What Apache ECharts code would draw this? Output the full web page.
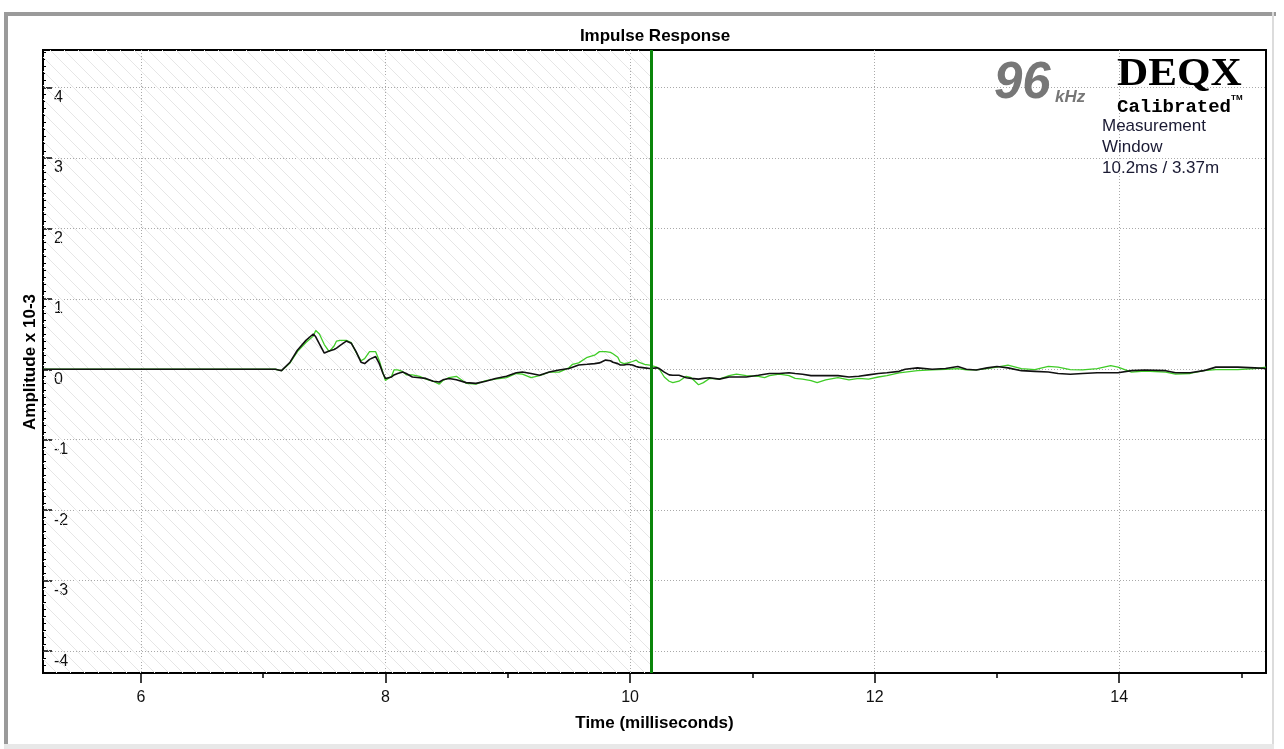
<!DOCTYPE html>
<html>
<head>
<meta charset="utf-8">
<script src="https://cdn.jsdelivr.net/npm/echarts@6/dist/echarts.min.js"></script>
<style>
  html, body { margin: 0; padding: 0; background: #ffffff; }
  #chart { width: 1284px; height: 749px; }
</style>
</head>
<body>
<div id="chart"></div>
<script>
// ---------- data ----------
const TIME_MS = [5.2, 7.10, 7.15, 7.22, 7.28, 7.35, 7.41, 7.43, 7.46, 7.50, 7.54, 7.58, 7.60, 7.63, 7.68, 7.72, 7.76, 7.80, 7.83, 7.87,
  7.92, 7.95, 7.98, 8.00, 8.05, 8.07, 8.10, 8.14, 8.17, 8.22, 8.28, 8.33, 8.39, 8.44, 8.47, 8.52, 8.58, 8.66, 8.74, 8.82,
  8.90, 8.99, 9.07, 9.12, 9.19, 9.26, 9.34, 9.42, 9.50, 9.53, 9.58, 9.65, 9.71, 9.75, 9.80, 9.84, 9.86, 9.90, 9.92, 9.95,
  9.98, 10.02, 10.05, 10.07, 10.12, 10.16, 10.22, 10.24, 10.28, 10.32, 10.35, 10.40, 10.46, 10.50, 10.56, 10.60, 10.65, 10.73, 10.81, 10.87,
  10.95, 11.05, 11.10, 11.14, 11.22, 11.30, 11.35, 11.41, 11.48, 11.53, 11.60, 11.70, 11.79, 11.87, 11.95, 12.03, 12.10, 12.20, 12.25, 12.35,
  12.47, 12.58, 12.68, 12.75, 12.83, 12.92, 13.00, 13.09, 13.20, 13.31, 13.42, 13.50, 13.60, 13.70, 13.82, 13.93, 13.99, 14.10, 14.21, 14.38,
  14.46, 14.58, 14.69, 14.79, 14.97, 15.11, 15.2];

const BLACK_AMP = [0, 0, -0.02, 0.10, 0.27, 0.41, 0.50, 0.46, 0.36, 0.23, 0.26, 0.28, 0.30, 0.34, 0.40, 0.37, 0.25, 0.10, 0.08, 0.14,
  0.18, 0.08, -0.06, -0.13, -0.11, -0.08, -0.06, -0.04, -0.06, -0.11, -0.12, -0.13, -0.17, -0.18, -0.15, -0.13, -0.15, -0.19, -0.20, -0.17,
  -0.13, -0.10, -0.05, -0.04, -0.06, -0.085, -0.04, -0.01, 0.01, 0.03, 0.06, 0.07, 0.08, 0.09, 0.13, 0.12, 0.10, 0.08, 0.06, 0.06,
  0.07, 0.06, 0.04, 0.03, 0.02, 0.01, 0.02, 0.01, -0.04, -0.08, -0.085, -0.085, -0.12, -0.13, -0.14, -0.13, -0.12, -0.14, -0.11, -0.11,
  -0.11, -0.085, -0.07, -0.06, -0.06, -0.05, -0.06, -0.07, -0.09, -0.09, -0.09, -0.09, -0.11, -0.10, -0.08, -0.06, -0.05, -0.03, 0.0, 0.02,
  0.0, 0.01, 0.04, 0.0, -0.01, 0.02, 0.04, 0.02, -0.02, -0.03, -0.04, -0.06, -0.07, -0.06, -0.05, -0.05, -0.05, -0.02, -0.01, -0.02,
  -0.05, -0.05, -0.02, 0.03, 0.03, 0.02, 0.01];

const GREEN_AMP = [0, 0, -0.02, 0.09, 0.25, 0.38, 0.47, 0.55, 0.50, 0.35, 0.25, 0.33, 0.40, 0.41, 0.41, 0.38, 0.24, 0.12, 0.15, 0.25,
  0.25, 0.12, -0.05, -0.16, -0.10, -0.01, -0.01, -0.03, -0.08, -0.08, -0.10, -0.14, -0.17, -0.21, -0.16, -0.12, -0.10, -0.20, -0.21, -0.16,
  -0.14, -0.12, -0.06, -0.07, -0.12, -0.09, -0.04, -0.04, 0.02, 0.07, 0.09, 0.17, 0.20, 0.25, 0.25, 0.24, 0.22, 0.17, 0.10, 0.08,
  0.09, 0.11, 0.13, 0.10, 0.07, 0.06, 0.03, 0.0, -0.11, -0.17, -0.19, -0.17, -0.10, -0.12, -0.22, -0.19, -0.13, -0.14, -0.09, -0.07,
  -0.09, -0.10, -0.12, -0.09, -0.07, -0.09, -0.13, -0.14, -0.16, -0.19, -0.15, -0.12, -0.15, -0.13, -0.14, -0.11, -0.09, -0.05, -0.04, -0.02,
  -0.01, 0.0, 0.01, -0.01, -0.01, 0.01, 0.03, 0.06, 0.01, -0.005, 0.04, 0.03, -0.005, -0.01, 0.01, 0.05, 0.03, -0.04, -0.025, -0.04,
  -0.07, -0.06, -0.02, -0.005, -0.005, 0.01, 0.03];

const X_RANGE = [5.2, 15.2];
const Y_RANGE = [-4.31, 4.53];
const X_LABEL_TICKS = [6, 8, 10, 12, 14];
const X_MINOR_TICKS = [7, 9, 11, 13, 15];
const Y_LABEL_TICKS = [-4, -3, -2, -1, 0, 1, 2, 3, 4];
const WINDOW_END_MS = 10.17;

const TITLE = 'Impulse Response';
const X_NAME = 'Time (milliseconds)';
const Y_NAME = 'Amplitude x 10-3';
const WINDOW_TEXT = ['Measurement', 'Window', '10.2ms / 3.37m'];

// ---------- helpers ----------
const Y_MINOR_TICKS = [];
for (let i = -43; i <= 45; i++) { if (i % 10 !== 0) Y_MINOR_TICKS.push(i / 10); }

const FONT = "'Liberation Sans', Arial, Helvetica, sans-serif";
const greenData = TIME_MS.map((t, i) => [t, GREEN_AMP[i]]);
const blackData = TIME_MS.map((t, i) => [t, BLACK_AMP[i]]);

// hatch pattern
const HS = 14;
const pc = document.createElement('canvas');
pc.width = HS; pc.height = HS;
const pctx = pc.getContext('2d');
pctx.strokeStyle = '#e6e6e6';
pctx.lineWidth = 1;
[-HS, 0, HS].forEach(k => { pctx.beginPath(); pctx.moveTo(k, 0); pctx.lineTo(k + HS, HS); pctx.stroke(); });

const chart = echarts.init(document.getElementById('chart'), null, { renderer: 'canvas' });

const gridDash = { color: '#a9a9a9', width: 1, type: [1, 2] };

chart.setOption({
  animation: false,
  backgroundColor: '#ffffff',
  grid: { left: 43, top: 50, right: 18, bottom: 76, show: true, borderColor: '#000', borderWidth: 2, backgroundColor: 'transparent' },
  xAxis: [
    {
      type: 'value', min: X_RANGE[0], max: X_RANGE[1], position: 'bottom',
      axisLine: { show: false, onZero: false },
      axisTick: { show: true, inside: false, length: 10, customValues: X_LABEL_TICKS, lineStyle: { color: '#000', width: 1.5 } },
      axisLabel: { customValues: X_LABEL_TICKS, margin: 17, fontSize: 16, color: '#111', fontFamily: FONT },
      splitLine: { show: true, lineStyle: gridDash },
      name: X_NAME, nameLocation: 'middle', nameGap: 42,
      nameTextStyle: { fontSize: 17, fontWeight: 'bold', color: '#000', fontFamily: FONT }
    },
    {
      type: 'value', min: X_RANGE[0], max: X_RANGE[1], position: 'bottom',
      axisLine: { show: false, onZero: false },
      axisTick: { show: true, inside: false, length: 5, customValues: X_MINOR_TICKS, lineStyle: { color: '#000', width: 1.5 } },
      axisLabel: { show: false },
      splitLine: { show: false }
    }
  ],
  yAxis: [
    {
      type: 'value', min: Y_RANGE[0], max: Y_RANGE[1], position: 'left',
      axisLine: { show: false, onZero: false },
      axisTick: { show: true, inside: true, length: 9, customValues: Y_LABEL_TICKS, lineStyle: { color: '#000', width: 1.5 } },
      axisLabel: { inside: true, customValues: Y_LABEL_TICKS, margin: 11, verticalAlign: 'top', padding: [2, 0, 0, 0],
        fontSize: 16, color: '#111', fontFamily: FONT },
      splitLine: { show: true, lineStyle: gridDash }
    },
    {
      type: 'value', min: Y_RANGE[0], max: Y_RANGE[1], position: 'left',
      axisLine: { show: false, onZero: false },
      axisTick: { show: true, inside: true, length: 3, customValues: Y_MINOR_TICKS, lineStyle: { color: '#000', width: 1 } },
      axisLabel: { show: false },
      splitLine: { show: false }
    }
  ],
  series: [
    {
      name: 'green', type: 'line', data: greenData, xAxisIndex: 0, yAxisIndex: 0,
      showSymbol: false, symbol: 'none', z: 3,
      lineStyle: { color: '#3fcc26', width: 1.3 }, itemStyle: { color: '#3fcc26' },
      markArea: {
        silent: true,
        itemStyle: { color: { image: pc, repeat: 'repeat' }, borderWidth: 0 },
        data: [[{ xAxis: X_RANGE[0] }, { xAxis: WINDOW_END_MS }]]
      },
      markLine: {
        silent: true, symbol: ['none', 'none'], label: { show: false },
        lineStyle: { color: '#0a850a', width: 3, type: 'solid' },
        data: [{ xAxis: WINDOW_END_MS }]
      }
    },
    {
      name: 'black', type: 'line', data: blackData, xAxisIndex: 0, yAxisIndex: 0,
      showSymbol: false, symbol: 'none', z: 4,
      lineStyle: { color: '#111111', width: 1.6 }, itemStyle: { color: '#111111' }
    }
  ],
  graphic: [
    // outer frame
    { type: 'rect', silent: true, z: 100, shape: { x: 4, y: 12, width: 1272, height: 4 }, style: { fill: '#9a9a9a' } },
    { type: 'rect', silent: true, z: 100, shape: { x: 4, y: 12, width: 4, height: 737 }, style: { fill: '#9a9a9a' } },
    { type: 'rect', silent: true, z: 100, shape: { x: 1272, y: 12, width: 2, height: 737 }, style: { fill: '#dcdcdc' } },
    { type: 'rect', silent: true, z: 100, shape: { x: 4, y: 744, width: 1270, height: 5 }, style: { fill: '#e8e8e8' } },
    // title
    { type: 'text', silent: true, z: 100, x: 655, y: 36,
      style: { text: TITLE, font: 'bold 17px ' + FONT, fill: '#000', align: 'center', verticalAlign: 'middle' } },
    // y axis name
    { type: 'text', silent: true, z: 100, x: 30, y: 362, rotation: Math.PI / 2,
      style: { text: Y_NAME, font: 'bold 17px ' + FONT, fill: '#000', align: 'center', verticalAlign: 'middle' } },
    // logo
    { type: 'text', silent: true, z: 100, x: 994, y: 84,
      style: { text: '96', font: 'italic bold 51px ' + FONT, fill: '#777777', align: 'left', verticalAlign: 'middle' } },
    { type: 'text', silent: true, z: 100, x: 1055, y: 97,
      style: { text: 'kHz', font: 'italic bold 17px ' + FONT, fill: '#777777', align: 'left', verticalAlign: 'middle' } },
    { type: 'text', silent: true, z: 100, x: 1117, y: 75, scaleX: 1.08,
      style: { text: 'DEQX', font: "bold 40px 'Liberation Serif', 'Times New Roman', serif", fill: '#000', align: 'left', verticalAlign: 'middle' } },
    { type: 'text', silent: true, z: 100, x: 1117, y: 107,
      style: { text: 'Calibrated', font: "bold 19px 'Liberation Mono', 'DejaVu Sans Mono', monospace", fill: '#000', align: 'left', verticalAlign: 'middle' } },
    { type: 'text', silent: true, z: 100, x: 1231, y: 98,
      style: { text: 'TM', font: 'bold 8px ' + FONT, fill: '#000', align: 'left', verticalAlign: 'middle' } },
    { type: 'text', silent: true, z: 100, x: 1102, y: 126,
      style: { text: WINDOW_TEXT[0], font: '17px ' + FONT, fill: '#1a1a33', align: 'left', verticalAlign: 'middle' } },
    { type: 'text', silent: true, z: 100, x: 1102, y: 147,
      style: { text: WINDOW_TEXT[1], font: '17px ' + FONT, fill: '#1a1a33', align: 'left', verticalAlign: 'middle' } },
    { type: 'text', silent: true, z: 100, x: 1102, y: 168,
      style: { text: WINDOW_TEXT[2], font: '17px ' + FONT, fill: '#1a1a33', align: 'left', verticalAlign: 'middle' } }
  ]
});
</script>
</body>
</html>
